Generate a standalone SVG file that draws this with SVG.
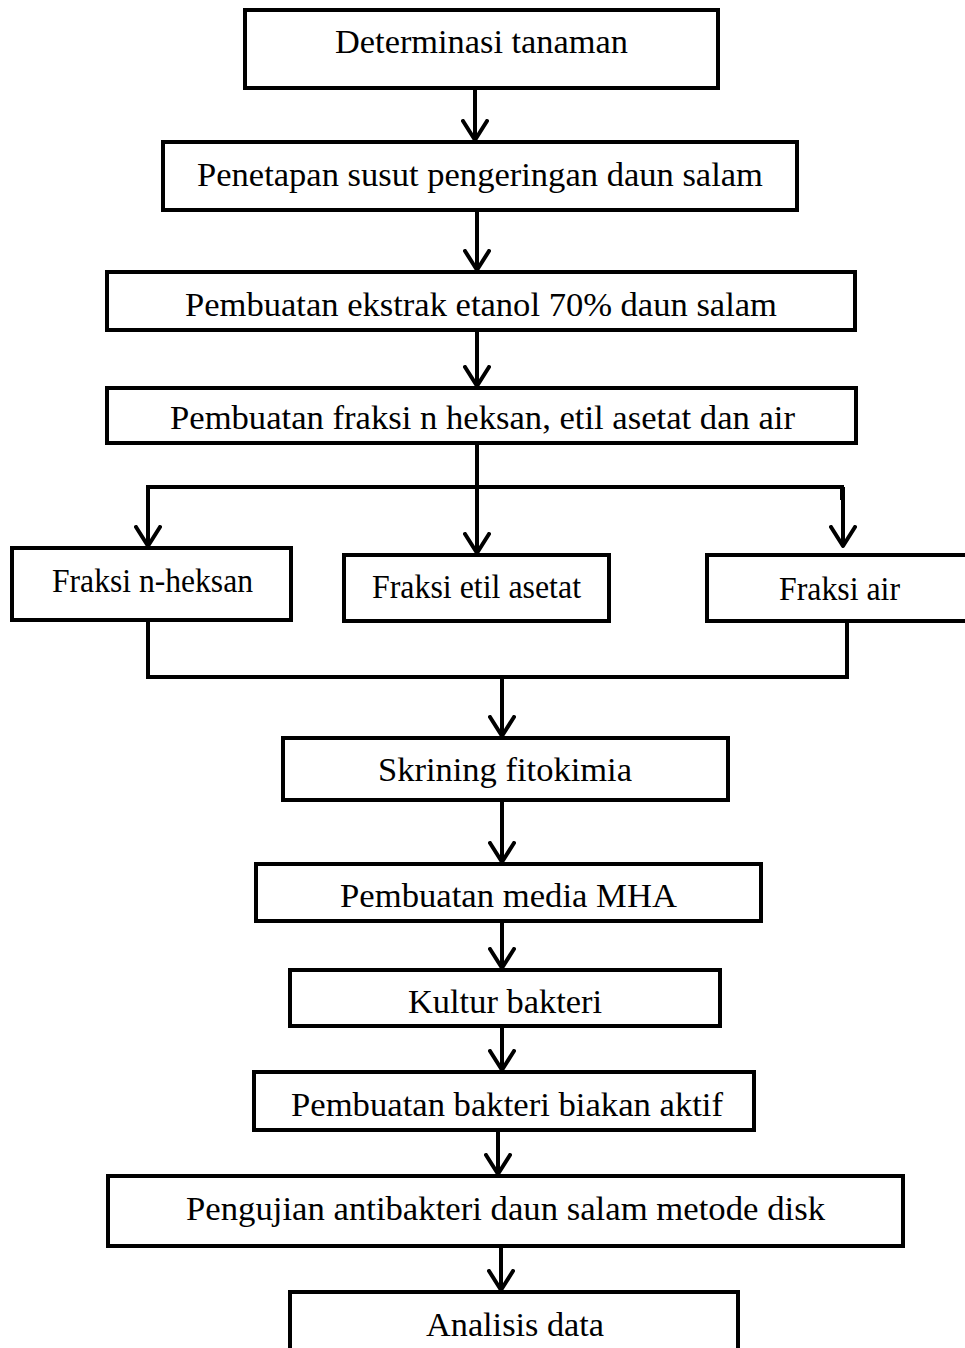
<svg xmlns="http://www.w3.org/2000/svg" width="965" height="1348" viewBox="0 0 965 1348">
<defs>
<marker id="arr" viewBox="0 0 24 28" refX="21" refY="14" markerWidth="24" markerHeight="28" markerUnits="userSpaceOnUse" orient="auto">
<path d="M2,2 L21,14 L2,26" fill="none" stroke="#000" stroke-width="4" stroke-linecap="round" stroke-linejoin="round"/>
</marker>
<style>
.box{fill:#fff;stroke:#000;stroke-width:4}
.t{font-family:'Liberation Serif','Times New Roman',Times,serif;font-size:34px;fill:#000}
.c{fill:none;stroke:#000;stroke-width:4}
.a{fill:none;stroke:#000;stroke-width:4;marker-end:url(#arr)}
</style>
</defs>
<rect width="965" height="1348" fill="#fff"/>
<g id="connectors">
<line class="a" x1="475" y1="88" x2="475" y2="140"/>
<line class="a" x1="477" y1="210" x2="477" y2="270"/>
<line class="a" x1="477" y1="331" x2="477" y2="386"/>
<line class="c" x1="477" y1="443" x2="477" y2="487"/>
<polyline class="c" points="148,500 148,487 842,487 842,500"/>
<line class="a" x1="148" y1="487" x2="148" y2="546"/>
<line class="a" x1="477" y1="487" x2="477" y2="553"/>
<line class="a" x1="843" y1="487" x2="843" y2="546"/>
<polyline class="c" points="148,620 148,677 847,677 847,621"/>
<line class="a" x1="502" y1="677" x2="502" y2="736"/>
<line class="a" x1="502" y1="800" x2="502" y2="862"/>
<line class="a" x1="502" y1="921" x2="502" y2="968"/>
<line class="a" x1="502" y1="1026" x2="502" y2="1070"/>
<line class="a" x1="498" y1="1130" x2="498" y2="1174"/>
<line class="a" x1="501" y1="1246" x2="501" y2="1290"/>
</g>
<g id="n1"><rect class="box" x="245" y="10" width="473" height="78"/><text class="t" x="335" y="53" textLength="293" lengthAdjust="spacingAndGlyphs">Determinasi tanaman</text></g>
<g id="n2"><rect class="box" x="163" y="142" width="634" height="68"/><text class="t" x="197" y="186" textLength="566" lengthAdjust="spacingAndGlyphs">Penetapan susut pengeringan daun salam</text></g>
<g id="n3"><rect class="box" x="107" y="272" width="748" height="58"/><text class="t" x="185" y="316" textLength="592" lengthAdjust="spacingAndGlyphs">Pembuatan ekstrak etanol 70% daun salam</text></g>
<g id="n4"><rect class="box" x="107" y="388" width="749" height="55"/><text class="t" x="170" y="429" textLength="625" lengthAdjust="spacingAndGlyphs">Pembuatan fraksi n heksan, etil asetat dan air</text></g>
<g id="n5"><rect class="box" x="12" y="548" width="279" height="72"/><text class="t" x="52" y="592" textLength="201" lengthAdjust="spacingAndGlyphs">Fraksi n-heksan</text></g>
<g id="n6"><rect class="box" x="344" y="555" width="265" height="66"/><text class="t" x="372" y="598" textLength="209" lengthAdjust="spacingAndGlyphs">Fraksi etil asetat</text></g>
<g id="n7"><rect class="box" x="707" y="555" width="270" height="66"/><text class="t" x="779" y="600" textLength="121" lengthAdjust="spacingAndGlyphs">Fraksi air</text></g>
<g id="n8"><rect class="box" x="283" y="738" width="445" height="62"/><text class="t" x="378" y="781" textLength="254" lengthAdjust="spacingAndGlyphs">Skrining fitokimia</text></g>
<g id="n9"><rect class="box" x="256" y="864" width="505" height="57"/><text class="t" x="340" y="907" textLength="337" lengthAdjust="spacingAndGlyphs">Pembuatan media MHA</text></g>
<g id="n10"><rect class="box" x="290" y="970" width="430" height="56"/><text class="t" x="408" y="1013" textLength="194" lengthAdjust="spacingAndGlyphs">Kultur bakteri</text></g>
<g id="n11"><rect class="box" x="254" y="1072" width="500" height="58"/><text class="t" x="291" y="1116" textLength="432" lengthAdjust="spacingAndGlyphs">Pembuatan bakteri biakan aktif</text></g>
<g id="n12"><rect class="box" x="108" y="1176" width="795" height="70"/><text class="t" x="186" y="1220" textLength="639" lengthAdjust="spacingAndGlyphs">Pengujian antibakteri daun salam metode disk</text></g>
<g id="n13"><rect class="box" x="290" y="1292" width="448" height="70"/><text class="t" x="426" y="1336" textLength="178" lengthAdjust="spacingAndGlyphs">Analisis data</text></g>
</svg>
